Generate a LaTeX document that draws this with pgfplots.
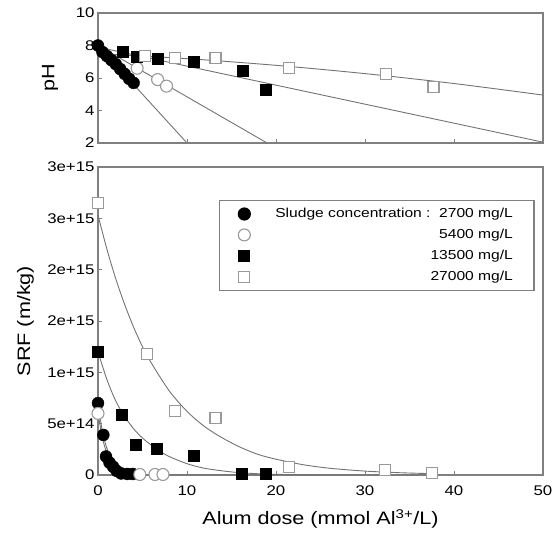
\documentclass[border=0pt]{standalone}
\usepackage{fontspec}
\setmainfont{Liberation Sans}[FakeStretch=1.2]
\usepackage{pgfplots}
\pgfplotsset{compat=1.18}

\definecolor{frame}{gray}{0.5}
\definecolor{fitline}{gray}{0.45}
\definecolor{opengray}{gray}{0.6}

\pgfplotsset{
  panel/.style={
    scale only axis, width=445bp, xmin=0, xmax=50,
    axis line style={frame, line width=1.6bp},
    tick align=inside, xtick pos=bottom, ytick pos=left,
    major tick length=4bp, tick style={frame, line width=0.8bp},
    tick label style={font=\fontsize{14bp}{16bp}\selectfont},
    xticklabel style={yshift=-7bp},
    /pgf/number format/assume math mode=true,
    xtick={0,10,...,50}, scaled ticks=false,
    clip=false,
  },
  fitc/.style={fitline, line width=0.9bp, no marks},
  fc/.style={only marks, mark=*, mark size=6bp, black},
  oc/.style={only marks, mark=*, mark size=6bp, mark options={fill=white, draw=opengray, line width=1.1bp}},
  fs/.style={only marks, mark=square*, mark size=5.5bp, black},
  os/.style={only marks, mark=square*, mark size=5.5bp, mark options={fill=white, draw=opengray, line width=1.1bp}},
}

\begin{document}
\begin{tikzpicture}

% SRF panel
\begin{axis}[panel, name=srf, at={(0bp,0bp)}, anchor=south west, height=308bp,
    ymin=0, ymax=3e15,
    ytick={0,0.5e15,1e15,1.5e15,2e15,2.5e15,3e15},
    yticklabels={0,5e+14,1e+15,2e+15,2e+15,3e+15,3e+15},
    ylabel={SRF (m/kg)},
    ylabel style={at={(axis description cs:-0.163,0.5)}, anchor=center,
                  font=\fontsize{18bp}{20bp}\selectfont},
    xlabel={Alum dose (mmol Al\textsuperscript{3+}/L)},
    xlabel style={at={(axis description cs:0.5,-0.143)}, anchor=center,
                  font=\fontsize{18bp}{20bp}\selectfont},
    legend style={at={(0.981,0.893)}, anchor=north east,
                  draw=frame, line width=1.2bp,
                  font=\fontsize{13bp}{15bp}\selectfont,
                  inner xsep=19bp, inner ysep=6bp, row sep=6bp,
                  /tikz/every odd column/.append style={column sep=23bp}},
    legend cell align=right]
  \addplot[fitc, smooth, forget plot] coordinates {
    (0,2.53e15) (1,2.20e15) (2,1.91e15) (3,1.66e15) (4,1.44e15) (5,1.25e15)
    (6,1.09e15) (8,0.82e15) (10,0.62e15) (12,0.47e15) (14,0.36e15)
    (16,0.27e15) (18,0.20e15) (20,0.154e15) (23,0.101e15) (26,0.066e15)
    (30,0.038e15) (34,0.022e15) (38,0.012e15)};
  \addplot[fitc, smooth, forget plot] coordinates {
    (0,1.2e15) (1,0.93e15) (2,0.72e15) (3,0.57e15) (4,0.45e15) (5,0.36e15)
    (6,0.29e15) (7,0.23e15) (8,0.18e15) (10,0.11e15) (12,0.065e15)
    (15,0.03e15) (18,0.012e15) (21,0.005e15) (25,0)};
  \addplot[fitc, smooth, forget plot] coordinates {
    (0,0.7e15) (0.5,0.42e15) (1,0.26e15) (1.5,0.16e15) (2,0.095e15)
    (3,0.035e15) (4,0.013e15) (5,0.005e15)};
  \addplot[fitc, smooth, forget plot] coordinates {
    (0,0.6e15) (0.5,0.36e15) (1,0.22e15) (2,0.08e15) (3,0.03e15)
    (4,0.01e15) (6,0.002e15) (38,0)};
  \addplot[fc] coordinates {
    (0,0.70e15) (0.6,0.39e15) (0.9,0.18e15) (1.3,0.12e15) (1.7,0.08e15)
    (2.1,0.04e15) (2.6,0.015e15) (3.3,0.01e15) (3.9,0.01e15)};
  \addlegendentry{Sludge concentration :\ \ 2700 mg/L}
  \addplot[oc] coordinates {(0,0.60e15) (4.7,0.005e15) (6.4,0.005e15) (7.3,0.005e15)};
  \addlegendentry{5400 mg/L}
  \addplot[fs] coordinates {
    (0,1.2e15) (2.7,0.59e15) (4.2,0.295e15) (6.6,0.255e15) (10.8,0.19e15)
    (16.1,0.01e15) (18.8,0.01e15)};
  \addlegendentry{13500 mg/L}
  \addplot[os] coordinates {
    (0,2.65e15) (5.5,1.18e15) (8.7,0.62e15) (13.2,0.555e15) (21.5,0.08e15)
    (32.2,0.05e15) (37.5,0.02e15)};
  \addlegendentry{27000 mg/L}
\end{axis}

% pH panel
\begin{axis}[panel, at={(0bp,332bp)}, anchor=south west, height=130bp,
    ymin=2, ymax=10, ytick={2,4,...,10}, xticklabels={},
    ylabel={pH},
    ylabel style={at={(axis description cs:-0.108,0.5)}, anchor=center,
                  font=\fontsize{18bp}{20bp}\selectfont}]
  \addplot[fitc] coordinates {(0,8.0) (10.0,2.0)};
  \addplot[fitc] coordinates {(0,8.0) (19.0,2.0)};
  \addplot[fitc] coordinates {(0,7.9) (50,2.05)};
  \addplot[fitc, smooth] coordinates {
    (0,7.5) (10,7.19) (20,6.78) (30,6.27) (40,5.66) (50,4.95)};
  \addplot[fc] coordinates {
    (0,8.0) (0.5,7.6) (1.0,7.35) (1.5,7.1) (2.0,6.85)
    (2.5,6.55) (3.0,6.25) (3.5,5.95) (4.0,5.7)};
  \addplot[oc] coordinates {(4.4,6.6) (6.7,5.9) (7.7,5.5)};
  \addplot[fs] coordinates {
    (2.8,7.6) (4.4,7.3) (6.7,7.2) (10.8,7.0) (16.3,6.45) (18.8,5.3)};
  \addplot[os] coordinates {
    (5.3,7.35) (8.7,7.25) (13.2,7.25) (21.5,6.6) (32.4,6.25) (37.7,5.45)};
\end{axis}

\pgfresetboundingbox
\path[use as bounding box] (-98bp,-67bp) rectangle (460bp,475bp);
\end{tikzpicture}
\end{document}
